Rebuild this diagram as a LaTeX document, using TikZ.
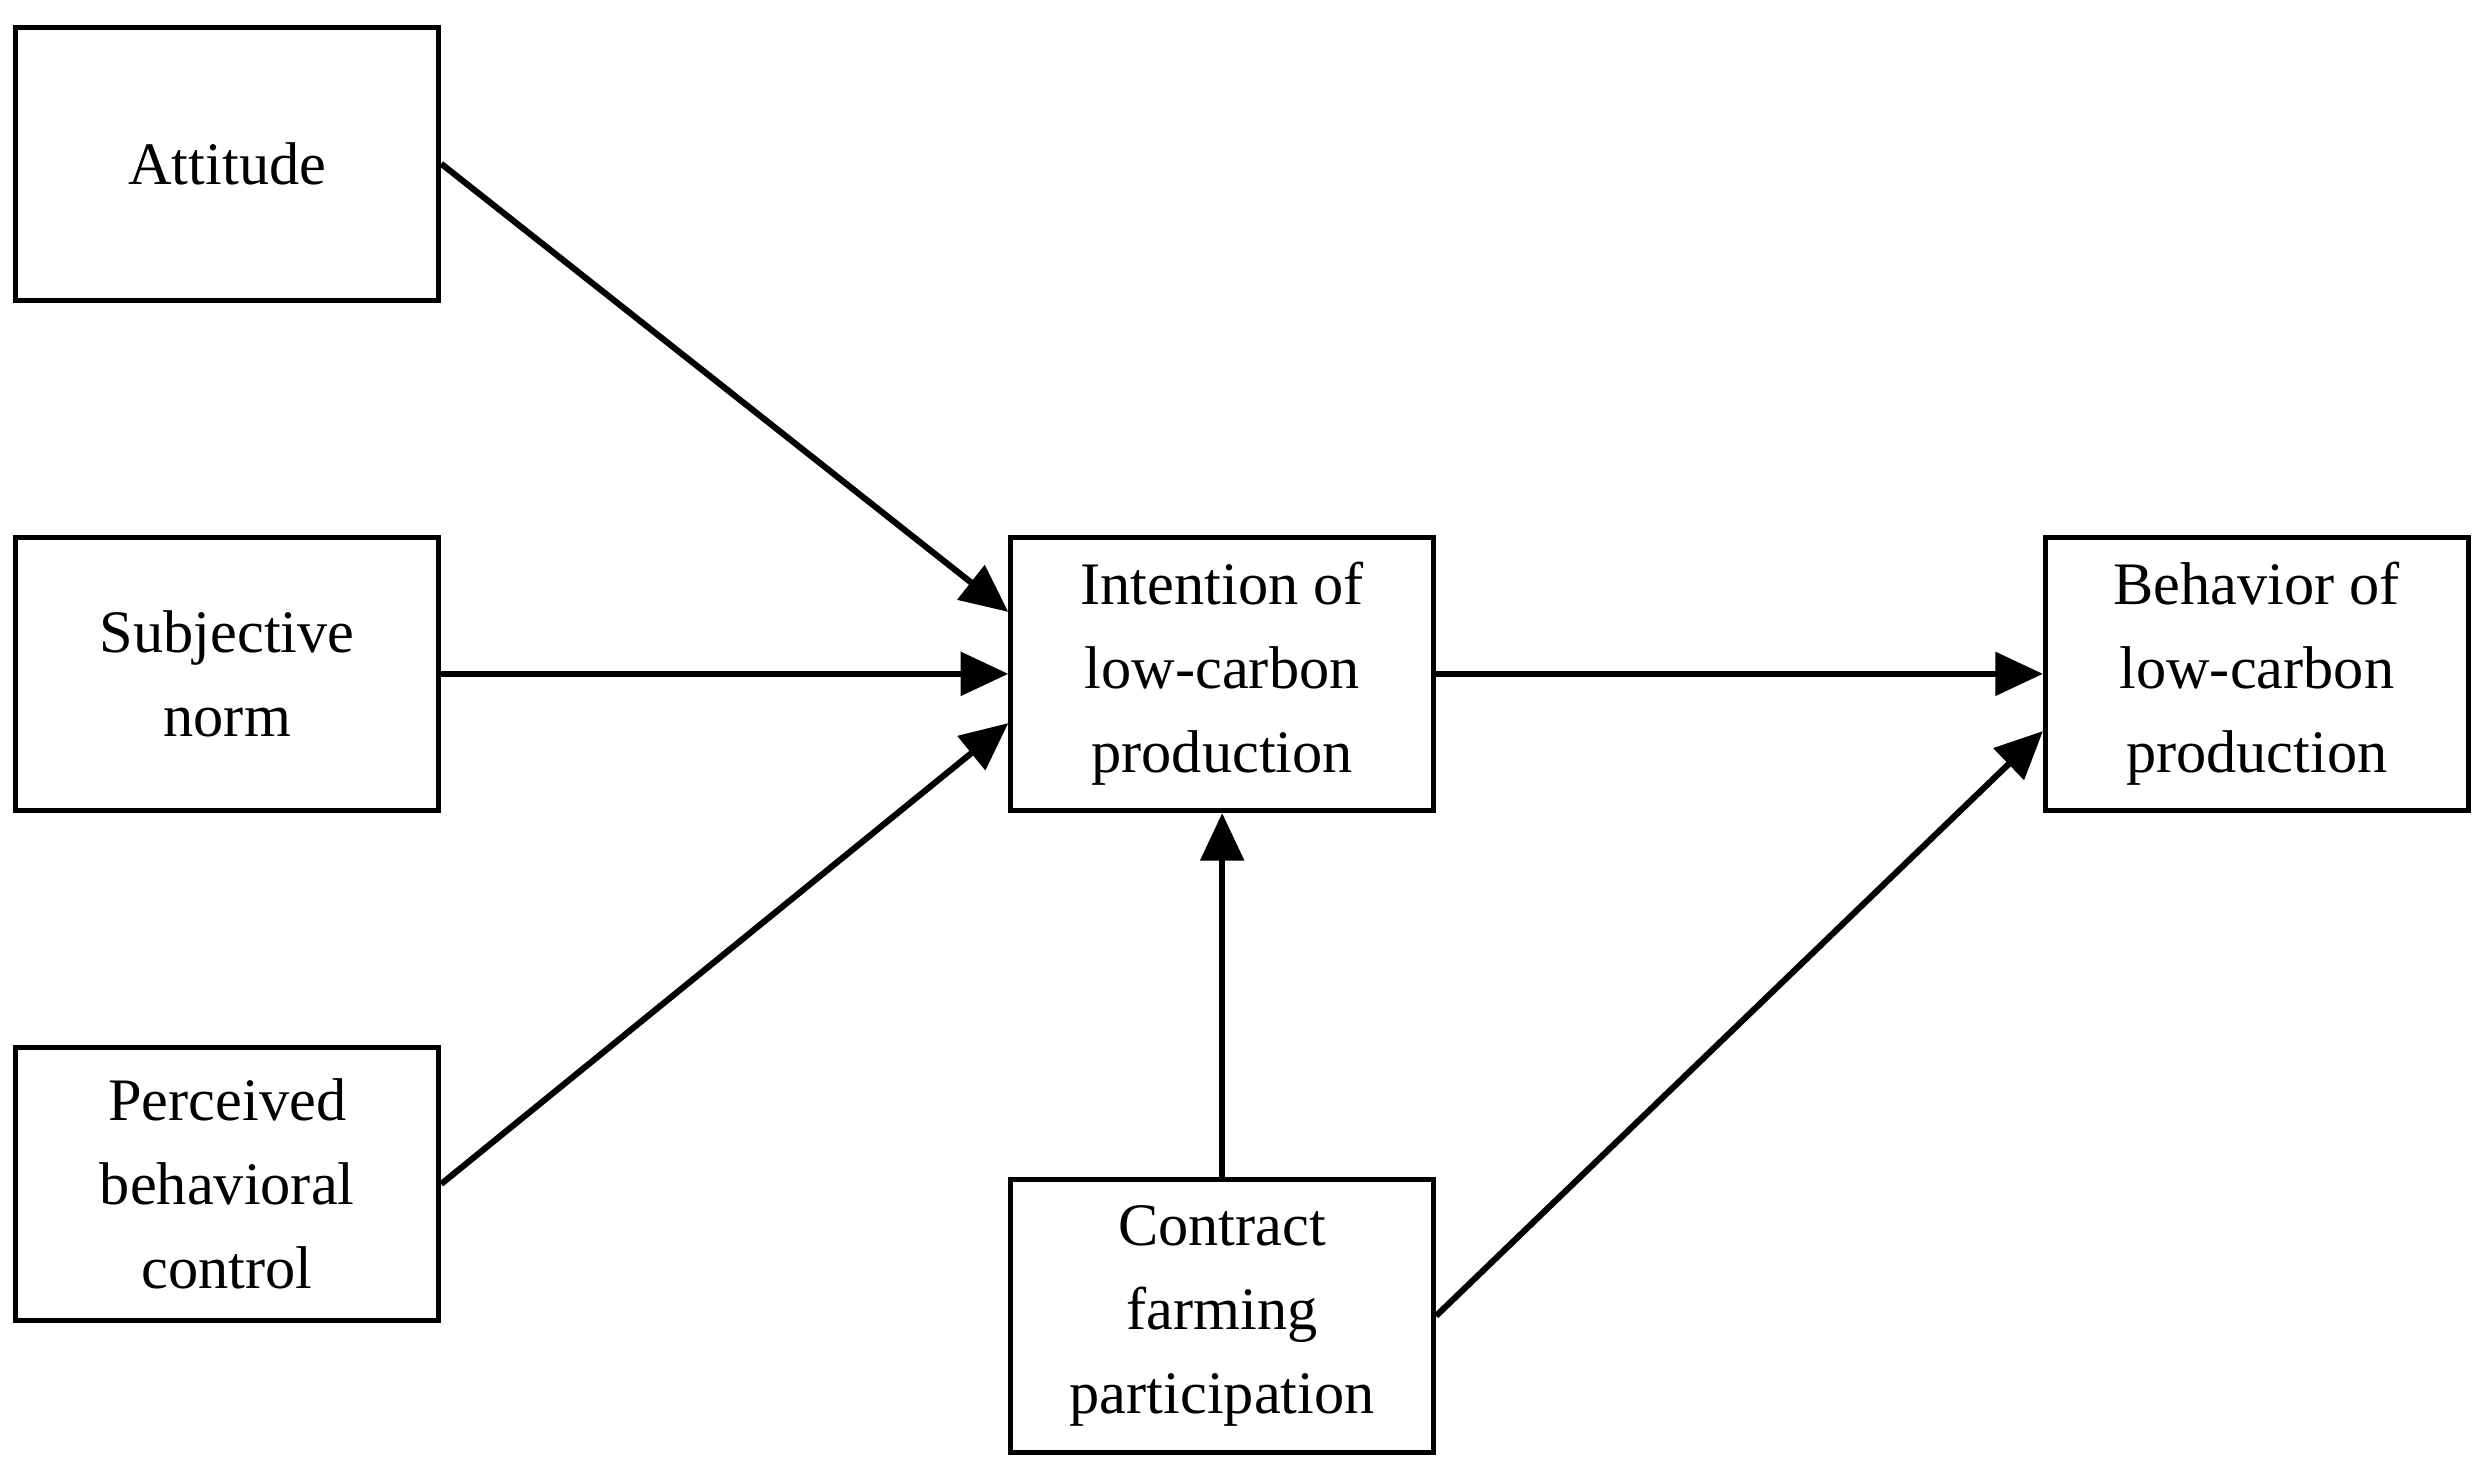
\documentclass[tikz,border=0pt]{standalone}
\usepackage{fontspec}
\setmainfont{Liberation Serif}
\usetikzlibrary{arrows.meta}
\begin{document}
\begin{tikzpicture}[x=0.05cm,y=-0.05cm,
  box/.style={draw,line width=4.5pt,minimum width=13.3cm,minimum height=8.6cm,inner sep=0pt,align=center,font=\fontsize{54}{75}\selectfont},
  conn/.style={line width=5.5pt,-{Triangle[length=1.5cm,width=1.35cm]}}]
\useasboundingbox (0,0) rectangle (1568,932);
\node[box] (att) at (143,103) {Attitude};
\node[box] (subj) at (143,424) {Subjective\\norm};
\node[box] (perc) at (143,745) {Perceived\\behavioral\\control};
\node[box] (int) at (769,424) {Intention of\\low-carbon\\production};
\node[box] (beh) at (1420,424) {Behavior of\\low-carbon\\production};
\node[box] (con) at (769,828) {Contract\\farming\\participation};
\draw[conn] (att.east) -- ([yshift=1.95cm]int.west);
\draw[conn] (subj.east) -- (int.west);
\draw[conn] (perc.east) -- ([yshift=-1.55cm]int.west);
\draw[conn] (int.east) -- (beh.west);
\draw[conn] (con.north) -- (int.south);
\draw[conn] (con.east) -- ([yshift=-1.8cm]beh.west);
\end{tikzpicture}
\end{document}
